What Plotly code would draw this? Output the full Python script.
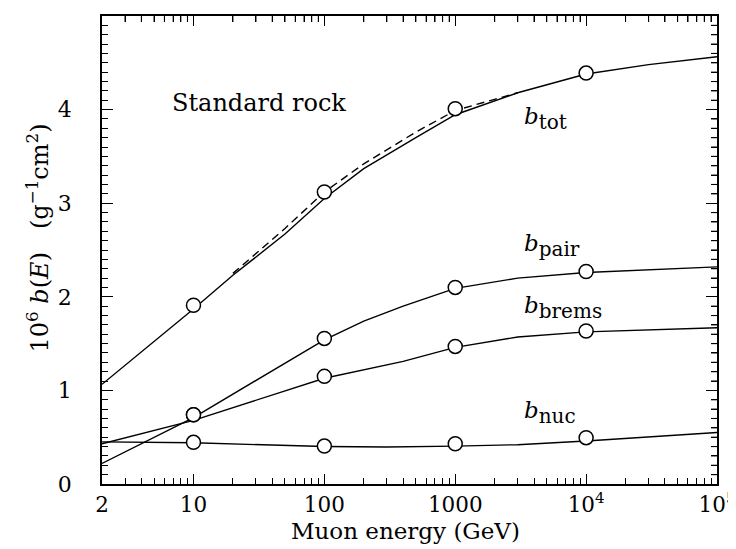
import plotly.graph_objects as go

# ---- data ----
energy_tot = [2, 10, 20, 50, 100, 200, 500, 1000, 3000, 10000, 30000, 100000]
b_tot = [1.065, 1.87, 2.23, 2.67, 3.05, 3.37, 3.70, 3.945, 4.18, 4.38, 4.48, 4.565]

energy_tot_dash = [20, 50, 100, 200, 500, 1000, 2000, 3000]
b_tot_dash = [2.25, 2.73, 3.12, 3.42, 3.76, 3.99, 4.11, 4.18]

energy_pair = [2, 10, 100, 200, 400, 1000, 3000, 10000, 100000]
b_pair = [0.22, 0.71, 1.54, 1.74, 1.90, 2.09, 2.20, 2.26, 2.32]

energy_brems = [2, 10, 100, 400, 1000, 3000, 10000, 100000]
b_brems = [0.43, 0.68, 1.13, 1.31, 1.46, 1.57, 1.625, 1.67]

energy_nuc = [2, 10, 100, 300, 1000, 3000, 10000, 100000]
b_nuc = [0.45, 0.44, 0.40, 0.395, 0.405, 0.42, 0.46, 0.55]

energy_pts = [10, 100, 1000, 10000]
pts_tot = [1.91, 3.12, 4.01, 4.39]
pts_pair = [0.74, 1.555, 2.10, 2.27]
pts_brems = [0.74, 1.15, 1.47, 1.635]
pts_nuc = [0.445, 0.405, 0.43, 0.495]

x_tickvals = [2, 10, 100, 1000, 10000, 100000]
x_ticktext = ["2", "10", "100", "1000", "10<sup>4</sup>", "10<sup>5</sup>"]
x_minorvals = [m * 10 ** k for k in range(0, 5) for m in range(2, 10)
               if 2 < m * 10 ** k < 100000]
y_tickvals = [0, 1, 2, 3, 4, 5]
y_ticktext = ["0", "1", "2", "3", "4", ""]
y_minorvals = [i / 10 for i in range(1, 50) if i % 10 != 0]

SUB = '<sub><span style="font-size:20px">{}</span></sub>'
labels = [
    ("<i>b</i>" + SUB.format("tot"), 3.91),
    ("<i>b</i>" + SUB.format("pair"), 2.55),
    ("<i>b</i>" + SUB.format("brems"), 1.89),
    ("<i>b</i>" + SUB.format("nuc"), 0.765),
]

FONT = "DejaVu Serif"
LW = 1.4
XR = [0.30103, 5]
YR = [0, 5]

fig = go.Figure()
for xs, ys in [(energy_tot, b_tot), (energy_pair, b_pair),
               (energy_brems, b_brems), (energy_nuc, b_nuc)]:
    fig.add_trace(go.Scatter(x=xs, y=ys, mode="lines",
                             line=dict(color="black", width=LW)))
fig.add_trace(go.Scatter(x=energy_tot_dash, y=b_tot_dash, mode="lines",
                         line=dict(color="black", width=LW, dash="8px,5px")))
for ys in [pts_tot, pts_pair, pts_brems, pts_nuc]:
    fig.add_trace(go.Scatter(x=energy_pts, y=ys, mode="markers",
                             marker=dict(symbol="circle", size=14, color="white",
                                         line=dict(color="black", width=1.5))))

for text, yv in labels:
    fig.add_annotation(x=3.51, y=yv, xref="x", yref="y", text=text,
                       showarrow=False, xanchor="left", yanchor="middle",
                       font=dict(family=FONT, size=23, color="black"))

fig.add_annotation(x=0.8205, y=4.07, xref="x", yref="y", text="Standard rock",
                   showarrow=False, xanchor="left", yanchor="middle",
                   font=dict(family=FONT, size=24, color="black"))

# axis titles
fig.add_annotation(x=0.4927, y=-0.100, xref="paper", yref="paper",
                   text="Muon energy (GeV)", showarrow=False,
                   xanchor="center", yanchor="middle",
                   font=dict(family=FONT, size=23, color="black"))
fig.add_annotation(x=-0.104, y=0.5246, xref="paper", yref="paper",
                   text="10<sup>6</sup>\u00a0<i>b</i>(<i>E</i>)\u00a0\u00a0\u00a0(g<sup>\u22121</sup>cm<sup>2</sup>)",
                   textangle=-90, showarrow=False,
                   xanchor="center", yanchor="middle",
                   font=dict(family=FONT, size=24, color="black"))

# minor ticks along the top and right frame edges (mirrors of the axis minor ticks)
for v in x_minorvals:
    fig.add_shape(type="line", xref="x", yref="y domain", x0=v, x1=v,
                  ysizemode="pixel", yanchor=1, y0=0, y1=-6,
                  line=dict(color="black", width=1.1))
for v in y_minorvals:
    fig.add_shape(type="line", yref="y", xref="x domain", y0=v, y1=v,
                  xsizemode="pixel", xanchor=1, x0=0, x1=-6,
                  line=dict(color="black", width=1.1))

# the page body has an 8px margin, so the figure is shrunk by that amount
fig.update_layout(
    width=728, height=541,
    margin=dict(l=94, r=19, t=8, b=65),
    paper_bgcolor="white", plot_bgcolor="white",
    showlegend=False,
    font=dict(family=FONT, size=22, color="black"),
    xaxis=dict(type="log", range=XR, showgrid=False, zeroline=False,
               automargin=False, tickvals=x_tickvals, ticktext=x_ticktext,
               ticks="inside", ticklen=10, tickwidth=1.3, tickcolor="black",
               minor=dict(tickvals=x_minorvals, ticks="inside", ticklen=6,
                          tickwidth=1.1, tickcolor="black", showgrid=False),
               showline=True, linecolor="black", linewidth=1.5,
               mirror="allticks", tickfont=dict(family=FONT, size=21.5)),
    yaxis=dict(range=YR, showgrid=False, zeroline=False, automargin=False,
               tickvals=y_tickvals, ticktext=y_ticktext,
               ticks="inside", ticklen=11, tickwidth=1.3, tickcolor="black",
               minor=dict(tickvals=y_minorvals, ticks="inside", ticklen=6,
                          tickwidth=1.1, tickcolor="black", showgrid=False),
               showline=True, linecolor="black", linewidth=1.5,
               mirror="allticks", tickfont=dict(family=FONT, size=22),
               ticklabelstandoff=24),
)

fig.write_html("out.html")
